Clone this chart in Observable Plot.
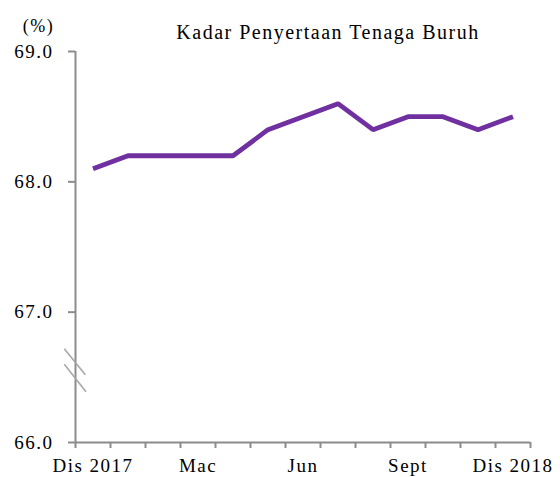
<!DOCTYPE html>
<html>
<head>
<meta charset="utf-8">
<script src="https://cdn.jsdelivr.net/npm/d3@7"></script>
<script src="https://cdn.jsdelivr.net/npm/@observablehq/plot@0.6"></script>
<style>
  html, body { margin: 0; padding: 0; background: #fff; }
  #chart svg { display: block; }
</style>
</head>
<body>
<div id="chart"></div>
<script>
const months = ["Dis 2017","Jan","Feb","Mac","Apr","Mei","Jun","Jul","Ogos","Sept","Okt","Nov","Dis 2018"];
const rates = [68.1, 68.2, 68.2, 68.2, 68.2, 68.4, 68.5, 68.6, 68.4, 68.5, 68.5, 68.4, 68.5];
const yTicks = [66, 67, 68, 69];
const labelIdx = [0, 3, 6, 9, 12];
const title = "Kadar Penyertaan Tenaga Buruh";
const unit = "(%)";

const data = months.map((m, i) => ({i, m, v: rates[i]}));
const boundaries = d3.range(-0.5, months.length, 1);
// axis break marks (data units)
const breaks = [
  {x1: -0.82, x2: -0.22, y1: 66.72, y2: 66.52},
  {x1: -0.82, x2: -0.20, y1: 66.60, y2: 66.39}
];

const font = "'Liberation Serif', 'Times New Roman', serif";
const axisColor = "#8c8c8c";

const chart = Plot.plot({
  width: 560,
  height: 477,
  marginLeft: 75,
  marginRight: 30,
  marginTop: 51,
  marginBottom: 35,
  style: {fontFamily: font, fontSize: "19px", color: "#000", background: "#fff", letterSpacing: "1.5px"},
  x: {type: "linear", domain: [-0.5, months.length - 0.5]},
  y: {type: "linear", domain: [66, 69]},
  marks: [
    // y axis
    Plot.axisY({ticks: yTicks, tickFormat: d3.format(".1f"), tickSize: 7, tickPadding: 15, stroke: axisColor, strokeWidth: 2, strokeOpacity: 1, fill: "#000", label: null}),
    Plot.ruleX([-0.5], {y1: 66, y2: 69, stroke: axisColor, strokeWidth: 2}),
    // x axis line + boundary ticks
    Plot.ruleY([66], {x1: -0.5, x2: months.length - 0.5, stroke: axisColor, strokeWidth: 2}),
    Plot.axisX({ticks: boundaries, tickSize: 6, tickFormat: () => "", stroke: axisColor, strokeWidth: 2, strokeOpacity: 1, label: null}),
    Plot.axisX({ticks: labelIdx, tickSize: 0, tickPadding: 16, tickFormat: i => months[i], fill: "#000", label: null}),
    // axis break marks
    Plot.link(breaks, {x1: "x1", y1: "y1", x2: "x2", y2: "y2", stroke: "#a8a8a8", strokeWidth: 1.6}),
    // series
    Plot.line(data, {x: "i", y: "v", stroke: "#7030a0", strokeWidth: 4.8, strokeLinejoin: "miter", strokeLinecap: "butt"}),
    // title and unit
    Plot.text([title], {frameAnchor: "top", dx: 25, dy: -13, text: d => d, fontSize: 20, lineAnchor: "bottom", letterSpacing: "1.7px"}),
    Plot.text([unit], {frameAnchor: "top-left", dx: -37, dy: -20, text: d => d, fontSize: 18, lineAnchor: "bottom", textAnchor: "middle"})
  ]
});
document.getElementById("chart").appendChild(chart);
</script>
</body>
</html>
